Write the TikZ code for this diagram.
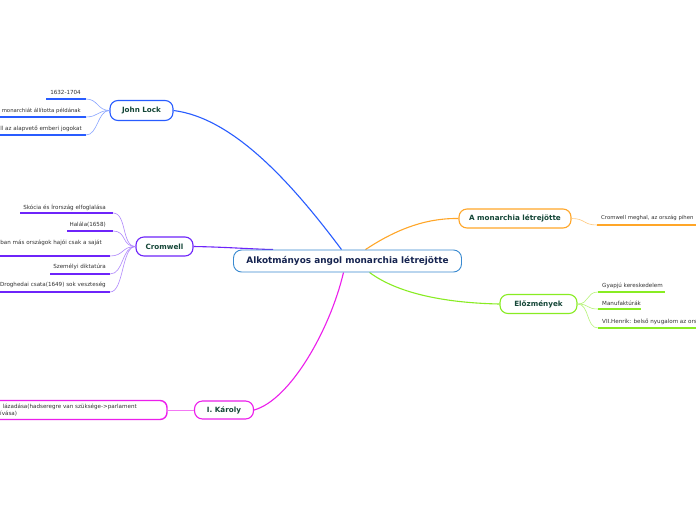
\documentclass[tikz,border=0pt]{standalone}
\usepackage{fontspec}
\setmainfont{DejaVu Sans}
\usetikzlibrary{calc,backgrounds}
\definecolor{cblue}{RGB}{40,92,255}
\definecolor{cpurple}{RGB}{110,36,250}
\definecolor{cmag}{RGB}{236,30,236}
\definecolor{corange}{RGB}{255,166,40}
\definecolor{cgreen}{RGB}{136,236,34}
\definecolor{cmain}{RGB}{58,138,208}
\definecolor{maintext}{RGB}{22,36,80}
\definecolor{topictext}{RGB}{20,70,55}
\definecolor{leaftext}{RGB}{50,50,50}
\begin{document}
\begin{tikzpicture}[x=1pt,y=-1pt,
  topic/.style={draw, rounded corners=8pt, line width=1.1pt, fill=white,
    font=\bfseries\fontsize{7.2}{8}\selectfont, text=topictext, inner sep=0pt},
  leaf/.style={font=\fontsize{5.6}{6.4}\selectfont, text=leaftext, inner sep=0pt},
  smallleaf/.style={leaf, font=\fontsize{5.35}{6.2}\selectfont},
  uline/.style={line width=1.8pt},
  mconn/.style={line width=1.1pt},
  lconn/.style={line width=0.6pt}]
\useasboundingbox (0,0) rectangle (696,520);
\clip (0,0) rectangle (696,520);

% topic nodes
\node[topic, draw=cmain, line width=0.9pt, minimum width=228pt, minimum height=22pt,
  font=\bfseries\fontsize{8.9}{10}\selectfont, text=maintext] (main) at (347.5,261) {Alkotmányos angol monarchia létrejötte};
\node[topic, draw=cblue, minimum width=63pt, minimum height=20pt] (lock) at (141.5,110.5) {John Lock};
\node[topic, draw=cpurple, minimum width=57pt, minimum height=19pt] (crom) at (164.5,246.5) {Cromwell};
\node[topic, draw=cmag, minimum width=59pt, minimum height=18pt] (karoly) at (224,410) {I. Károly};
\node[topic, draw=corange, minimum width=112pt, minimum height=19pt] (mon) at (515,218.5) {A monarchia létrejötte};
\node[topic, draw=cgreen, minimum width=77pt, minimum height=19pt] (elo) at (538.5,304) {Előzmények};

% John Lock leaves
\coordinate (l1s) at (46,99);  \coordinate (l1e) at (86,99);
\coordinate (l2s) at (0,117);  \coordinate (l2e) at (86,117);
\coordinate (l3s) at (0,135);  \coordinate (l3e) at (86,135);
\draw[uline, cblue] (l1s) -- (l1e);
\draw[uline, cblue] (l2s) -- (l2e);
\draw[uline, cblue] (l3s) -- (l3e);
\node[leaf, anchor=east] (t1) at (81,92) {1632-1704};
\node[smallleaf, anchor=east] (t2) at (81,111) {monarchiát állította példának};
\node[leaf, anchor=east] (t3) at (82,128.5) {ll az alapvető emberi jogokat};

% Cromwell leaves
\coordinate (c1s) at (20,213);  \coordinate (c1e) at (113,213);
\coordinate (c2s) at (67,231);  \coordinate (c2e) at (113,231);
\coordinate (c3s) at (0,256);   \coordinate (c3e) at (110,256);
\coordinate (c4s) at (50,274);  \coordinate (c4e) at (110,274);
\coordinate (c5s) at (0,292);   \coordinate (c5e) at (110,292);
\draw[uline, cpurple] (c1s) -- (c1e);
\draw[uline, cpurple] (c2s) -- (c2e);
\draw[uline, cpurple] (c3s) -- (c3e);
\draw[uline, cpurple] (c4s) -- (c4e);
\draw[uline, cpurple] (c5s) -- (c5e);
\node[leaf, anchor=east] (k1) at (106,207) {Skócia és Írország elfoglalása};
\node[leaf, anchor=east] (k2) at (106,225) {Halála(1658)};
\node[leaf, anchor=east] (k3) at (102,243) {ban más országok hajói csak a saját};
\node[leaf, anchor=east] (k4) at (106,267) {Személyi diktatúra};
\node[leaf, anchor=east] (k5) at (106,285) {Droghedai csata(1649) sok veszteség};

% A monarchia letrejotte leaf
\coordinate (m1s) at (597,225); \coordinate (m1e) at (696,225);
\draw[uline, corange] (m1s) -- (m1e);
\node[smallleaf, anchor=west] (mt1) at (601,218) {Cromwell meghal, az ország pihen};

% Elozmenyek leaves
\coordinate (e1s) at (598,292); \coordinate (e1e) at (665,292);
\coordinate (e2s) at (598,309); \coordinate (e2e) at (641,309);
\coordinate (e3s) at (598,328); \coordinate (e3e) at (696,328);
\draw[uline, cgreen] (e1s) -- (e1e);
\draw[uline, cgreen] (e2s) -- (e2e);
\draw[uline, cgreen] (e3s) -- (e3e);
\node[leaf, anchor=west] (et1) at (602,286) {Gyapjú kereskedelem};
\node[leaf, anchor=west] (et2) at (602,303) {Manufaktúrák};
\node[leaf, anchor=west] (et3) at (602,322) {VII.Henrik: belső nyugalom az ors};

% I. Karoly leaf
\node[draw=cmag, line width=1.4pt, rounded corners=7pt, minimum width=190pt, minimum height=19pt, inner sep=0pt] (kbox) at (72,410) {};
\node[leaf, anchor=west] (kt1) at (2.5,406.5) {lázadása(hadseregre van szüksége->parlament};
\node[leaf, anchor=west] (kt2) at (0,413.5) {ívása)};

% leaf connectors
\foreach \e in {l1e,l2e,l3e}
  \draw[lconn, cblue!55] (lock.west) .. controls +(-12,0) and +(12,0) .. (\e);
\foreach \e in {c1e,c2e,c3e,c4e,c5e}
  \draw[lconn, cpurple!55] (crom.west) .. controls +(-14,0) and +(14,0) .. (\e);
\draw[lconn, cmag!60, line width=0.8pt] (karoly.west) -- (kbox.east);
\draw[lconn, corange!60] (mon.east) .. controls +(14,0) and +(-14,0) .. (m1s);
\foreach \e in {e1s,e2s,e3s}
  \draw[lconn, cgreen!60] (elo.east) .. controls +(12,0) and +(-12,0) .. (\e);

% topic connectors, under the nodes
\begin{scope}[on background layer]
\fill[white] (0,0) rectangle (696,520);
\draw[mconn, cblue] (lock.east) .. controls (233,118) and (291,182) .. ($(main.north)+(-6,0)$);
\draw[mconn, cpurple] (crom.east) .. controls (225,247) and (250,249) .. ($(main.north west)+(40,0)$);
\draw[mconn, cmag] ($(main.south)+(-4,0)$) .. controls (330,330) and (290,400) .. (karoly.east);
\draw[mconn, corange] ($(main.north)+(18,0)$) .. controls (395,230) and (425,218) .. (mon.west);
\draw[mconn, cgreen] ($(main.south)+(22,0)$) .. controls (400,295) and (450,303) .. (elo.west);
\end{scope}
\end{tikzpicture}
\end{document}
